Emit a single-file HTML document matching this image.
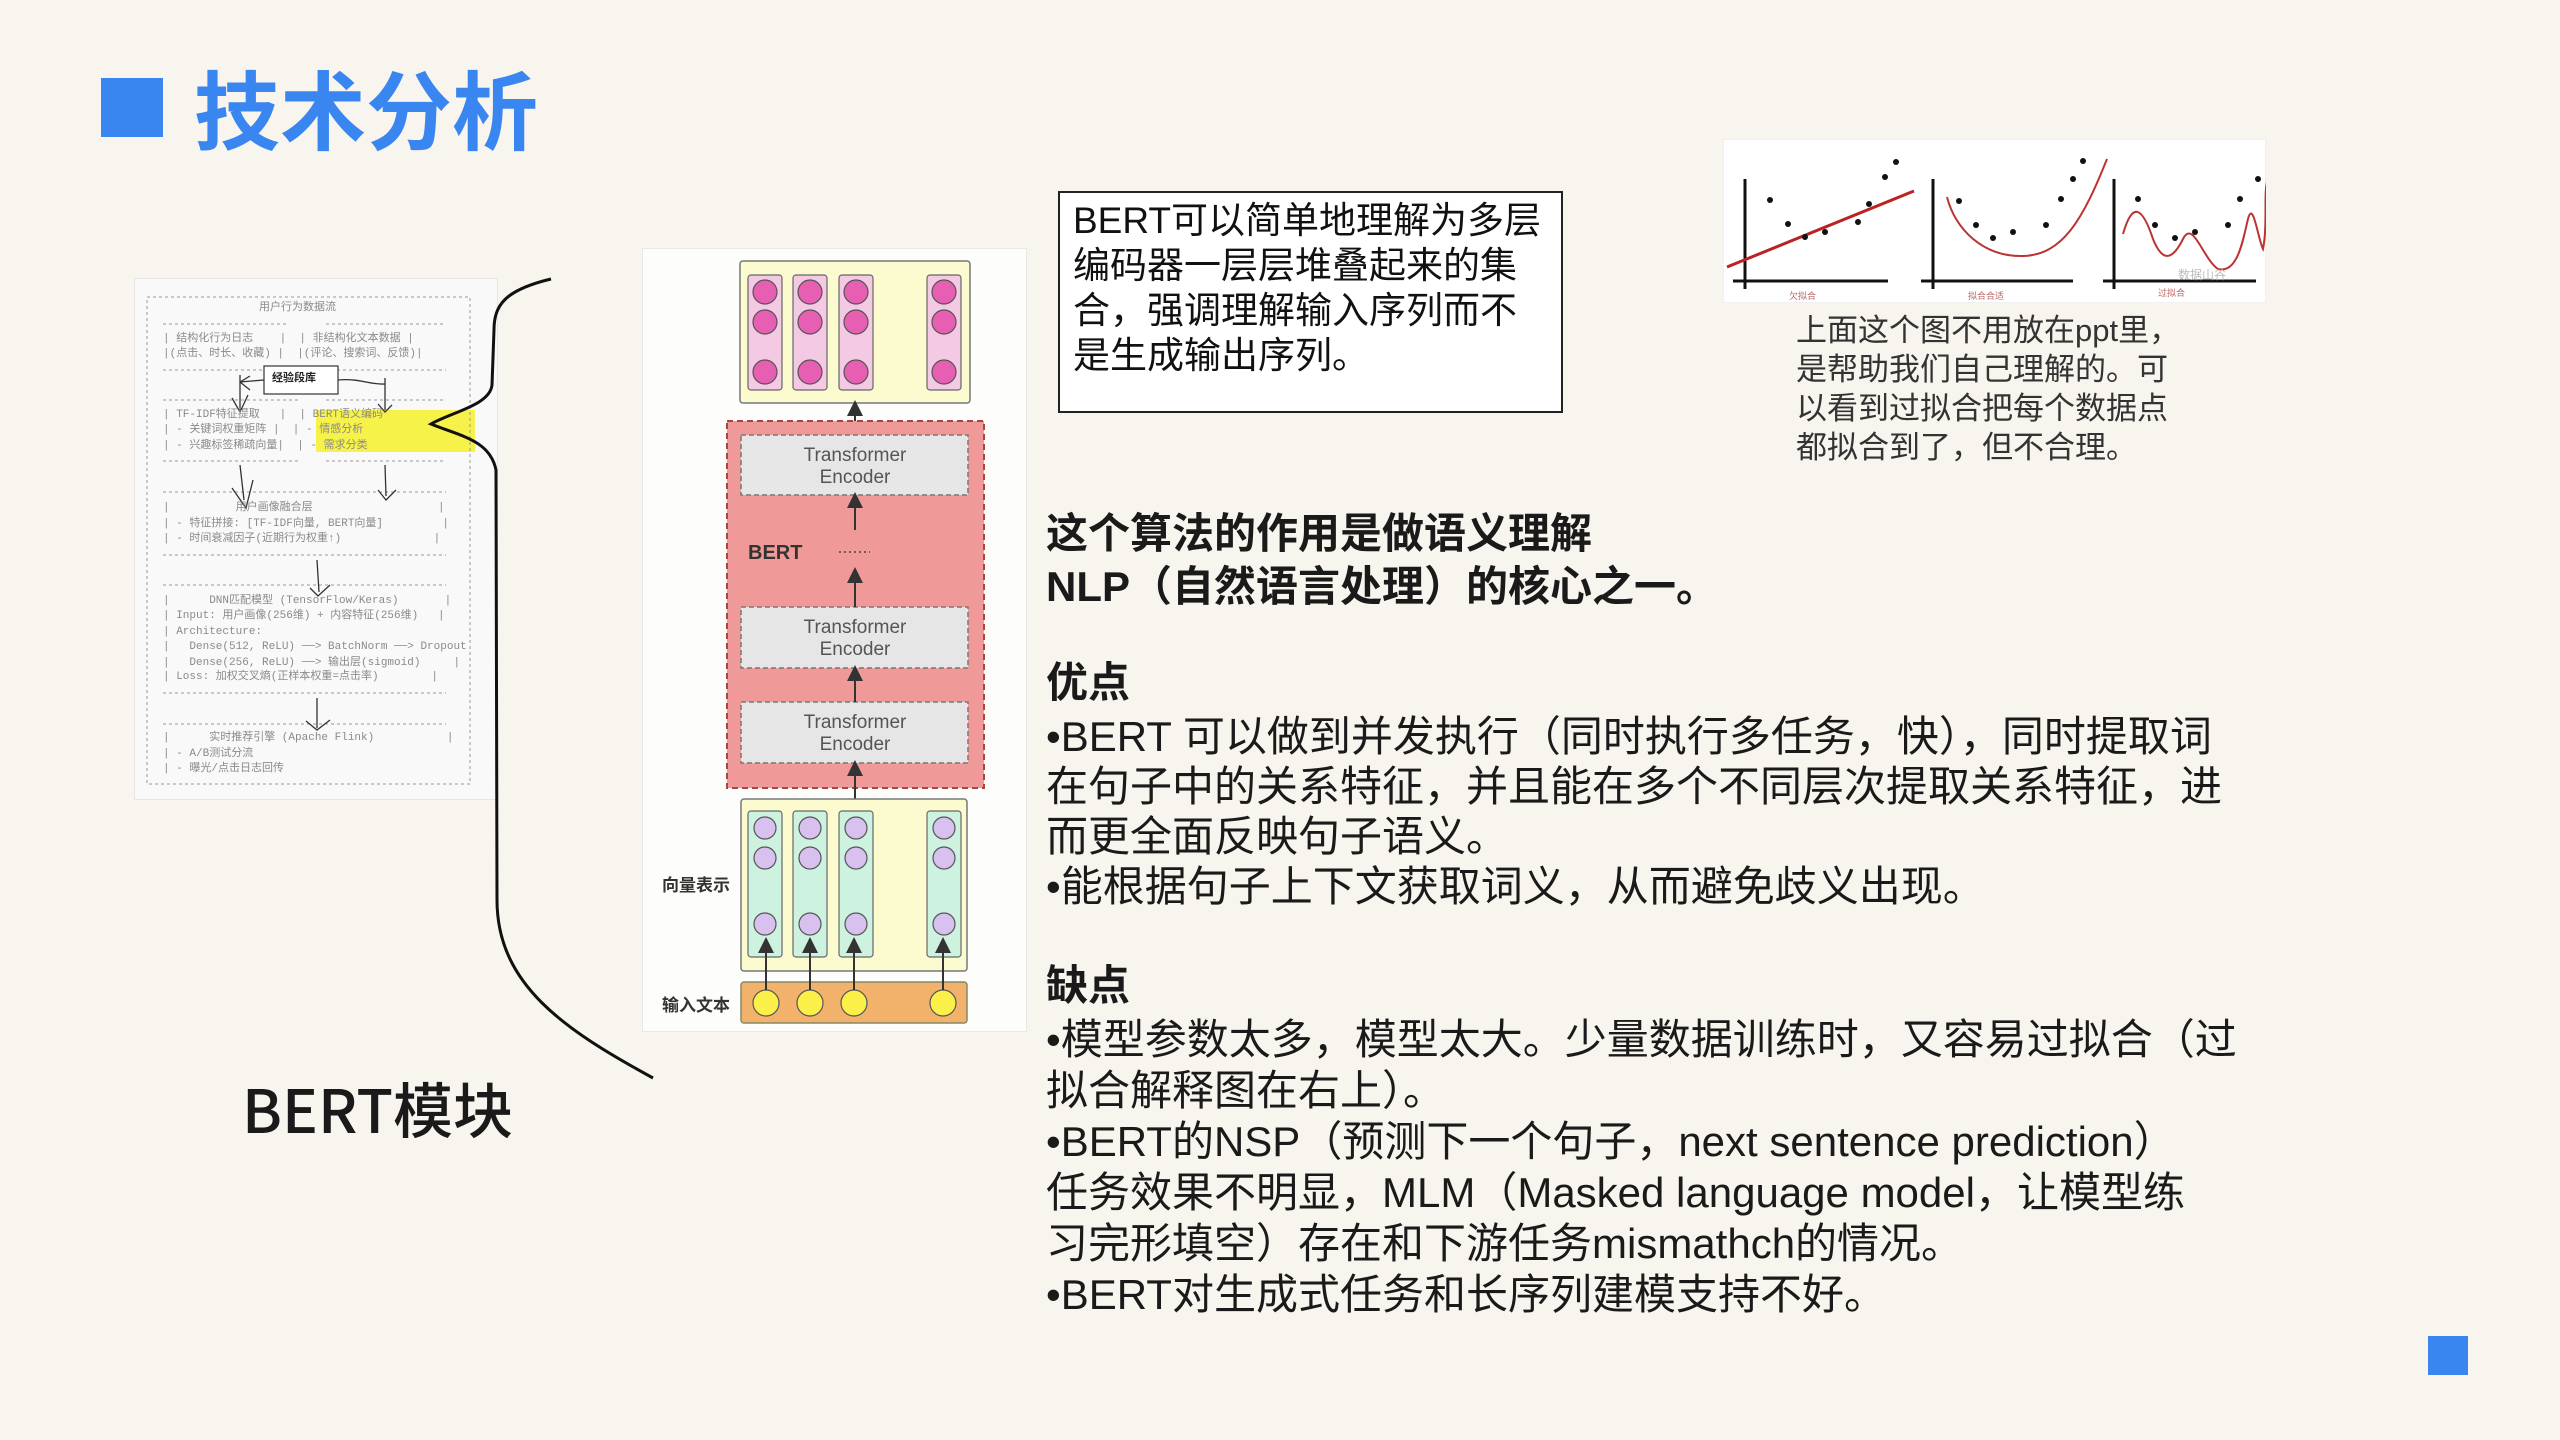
<!DOCTYPE html>
<html><head><meta charset="utf-8"><style>
*{margin:0;padding:0;box-sizing:border-box}
body{width:2560px;height:1440px;background:#f8f4ee;position:relative;overflow:hidden;font-family:"Liberation Sans","Noto Sans CJK SC",sans-serif;color:#1a1a1a}
.a{position:absolute;white-space:nowrap}
.m{position:absolute;white-space:pre;font-family:"Liberation Mono","Noto Sans CJK SC",monospace;font-size:11px;color:#8a8a8a;line-height:13px}
.t{font-size:42px;line-height:50px}
</style></head><body>
<div class="a" style="left:101px;top:78px;width:62px;height:59px;background:#3a86f0"></div>
<div class="a" style="left:194px;top:56px;font-size:86px;font-weight:bold;color:#3a86f0;line-height:100px;font-family:'Noto Sans CJK SC',sans-serif">技术分析</div>

<!-- left image -->
<div class="a" style="left:134px;top:278px;width:364px;height:522px;background:#f9f9f9;border:1px solid #e6e6e6"></div>
<div class="a" style="left:316px;top:410px;width:159px;height:42px;background:#f7f24a"></div>
<svg class="a" style="left:0;top:0" width="700" height="1100">
<g fill="none" stroke="#999" stroke-width="1" stroke-dasharray="3,3">
<rect x="147" y="297" width="323" height="487"/>
<line x1="163" y1="324" x2="288" y2="324"/><line x1="326" y1="324" x2="446" y2="324"/>
<line x1="163" y1="370" x2="446" y2="370"/>
<line x1="163" y1="400" x2="300" y2="400"/><line x1="326" y1="400" x2="446" y2="400"/>
<line x1="163" y1="461" x2="300" y2="461"/><line x1="326" y1="461" x2="446" y2="461"/>
<line x1="163" y1="492" x2="446" y2="492"/><line x1="163" y1="555" x2="446" y2="555"/>
<line x1="163" y1="585" x2="446" y2="585"/><line x1="163" y1="693" x2="446" y2="693"/>
<line x1="163" y1="724" x2="446" y2="724"/>
</g>
<rect x="264" y="366" width="74" height="28" fill="#fff" stroke="#333" stroke-width="1.2"/>
<g fill="none" stroke="#333" stroke-width="1.3">
<path d="M264 380 L240 382 M240 382 L250 376 M240 382 L250 390 M240 375 L240 410 M232 398 L240 412 L248 395"/>
<path d="M338 380 C360 378 370 385 385 384 M385 378 L385 410 M378 404 L385 412 L392 405"/>
<path d="M240 465 L244 500 M232 488 L246 508 L253 480"/>
<path d="M385 465 L386 496 M378 490 L386 500 L396 490"/>
<path d="M317 560 L319 592 M310 588 L318 596 L330 585"/>
<path d="M317 698 L317 728 M306 721 L317 730 L330 720"/>
</g>
<path d="M551 279 C505 290 494 305 494 330 L492 385 C490 405 452 412 431 424 C460 436 490 440 496 470 L497 900 C497 985 565 1030 653 1078" fill="none" stroke="#111" stroke-width="3"/>
</svg>
<div class="m" style="left:259px;top:302px">用户行为数据流</div>
<div class="m" style="left:163px;top:333px">| 结构化行为日志    |  | 非结构化文本数据 |</div>
<div class="m" style="left:163px;top:348px">|(点击、时长、收藏) |  |(评论、搜索词、反馈)|</div>
<div class="m" style="left:272px;top:373px;color:#222;font-weight:bold">经验段库</div>
<div class="m" style="left:163px;top:409px">| TF-IDF特征提取   |  | BERT语义编码</div>
<div class="m" style="left:163px;top:424px">| - 关键词权重矩阵 |  | - 情感分析</div>
<div class="m" style="left:163px;top:440px">| - 兴趣标签稀疏向量|  | - 需求分类</div>
<div class="m" style="left:163px;top:502px">|          用户画像融合层                   |</div>
<div class="m" style="left:163px;top:518px">| - 特征拼接: [TF-IDF向量, BERT向量]         |</div>
<div class="m" style="left:163px;top:533px">| - 时间衰减因子(近期行为权重↑)              |</div>
<div class="m" style="left:163px;top:595px">|      DNN匹配模型 (TensorFlow/Keras)       |</div>
<div class="m" style="left:163px;top:610px">| Input: 用户画像(256维) + 内容特征(256维)   |</div>
<div class="m" style="left:163px;top:626px">| Architecture:</div>
<div class="m" style="left:163px;top:641px">|   Dense(512, ReLU) ──> BatchNorm ──> Dropout</div>
<div class="m" style="left:163px;top:657px">|   Dense(256, ReLU) ──> 输出层(sigmoid)     |</div>
<div class="m" style="left:163px;top:671px">| Loss: 加权交叉熵(正样本权重=点击率)        |</div>
<div class="m" style="left:163px;top:732px">|      实时推荐引擎 (Apache Flink)           |</div>
<div class="m" style="left:163px;top:748px">| - A/B测试分流</div>
<div class="m" style="left:163px;top:763px">| - 曝光/点击日志回传</div>
<div class="a" style="left:242px;top:1072px;font-size:60px;line-height:72px;font-family:'Noto Sans CJK SC',sans-serif;font-weight:500">BERT模块</div>

<!-- BERT diagram -->
<div class="a" style="left:642px;top:248px;width:385px;height:784px;background:#fdfdfb;border:1px solid #e8e8e8"></div>
<svg class="a" style="left:0;top:0" width="1100" height="1100">
<defs><marker id="ar" markerWidth="8" markerHeight="8" refX="4" refY="4" orient="auto"><path d="M0 0 L8 4 L0 8z" fill="#333"/></marker></defs>
<rect x="740" y="261" width="230" height="142" rx="3" fill="#fcfbcf" stroke="#777" stroke-width="1.5"/>
<g fill="#f3c9e4" stroke="#666" stroke-width="1.2">
<rect x="748" y="275" width="34" height="115" rx="3"/><rect x="793" y="275" width="34" height="115" rx="3"/><rect x="839" y="275" width="34" height="115" rx="3"/><rect x="927" y="275" width="34" height="115" rx="3"/>
</g>
<g fill="#e75fb3" stroke="#555" stroke-width="1.2">
<circle cx="765" cy="292" r="12"/><circle cx="765" cy="322" r="12"/><circle cx="765" cy="372" r="12"/>
<circle cx="810" cy="292" r="12"/><circle cx="810" cy="322" r="12"/><circle cx="810" cy="372" r="12"/>
<circle cx="856" cy="292" r="12"/><circle cx="856" cy="322" r="12"/><circle cx="856" cy="372" r="12"/>
<circle cx="944" cy="292" r="12"/><circle cx="944" cy="322" r="12"/><circle cx="944" cy="372" r="12"/>
</g>
<rect x="727" y="421" width="257" height="367" fill="#ef9a98" stroke="#a44" stroke-width="2" stroke-dasharray="6,4"/>
<g fill="#e6e6e6" stroke="#777" stroke-width="1.5" stroke-dasharray="5,3">
<rect x="741" y="435" width="227" height="60"/><rect x="741" y="607" width="227" height="61"/><rect x="741" y="702" width="227" height="61"/>
</g>
<g fill="#555" font-family="Liberation Sans,sans-serif" font-size="19" text-anchor="middle">
<text x="855" y="461">Transformer</text><text x="855" y="483">Encoder</text>
<text x="855" y="633">Transformer</text><text x="855" y="655">Encoder</text>
<text x="855" y="728">Transformer</text><text x="855" y="750">Encoder</text>
</g>
<text x="748" y="559" font-family="Liberation Sans,sans-serif" font-weight="bold" font-size="20" fill="#333">BERT</text>
<line x1="839" y1="552" x2="870" y2="552" stroke="#444" stroke-width="1.5" stroke-dasharray="2,3"/>
<g stroke="#333" stroke-width="2" marker-end="url(#ar)">
<line x1="855" y1="421" x2="855" y2="408"/><line x1="855" y1="530" x2="855" y2="500"/>
<line x1="855" y1="607" x2="855" y2="575"/><line x1="855" y1="702" x2="855" y2="673"/>
<line x1="855" y1="799" x2="855" y2="768"/>
</g>
<rect x="741" y="799" width="226" height="172" rx="3" fill="#fcfbcf" stroke="#777" stroke-width="1.5"/>
<g fill="#cdf2e0" stroke="#666" stroke-width="1.2">
<rect x="748" y="811" width="34" height="146" rx="3"/><rect x="793" y="811" width="34" height="146" rx="3"/><rect x="839" y="811" width="34" height="146" rx="3"/><rect x="927" y="811" width="34" height="146" rx="3"/>
</g>
<g fill="#d8c0ef" stroke="#555" stroke-width="1.2">
<circle cx="765" cy="828" r="11"/><circle cx="765" cy="858" r="11"/><circle cx="765" cy="924" r="11"/>
<circle cx="810" cy="828" r="11"/><circle cx="810" cy="858" r="11"/><circle cx="810" cy="924" r="11"/>
<circle cx="856" cy="828" r="11"/><circle cx="856" cy="858" r="11"/><circle cx="856" cy="924" r="11"/>
<circle cx="944" cy="828" r="11"/><circle cx="944" cy="858" r="11"/><circle cx="944" cy="924" r="11"/>
</g>
<rect x="741" y="982" width="226" height="41" rx="3" fill="#f3b26c" stroke="#886" stroke-width="1.5"/>
<g fill="#fbef4a" stroke="#555" stroke-width="1.2">
<circle cx="766" cy="1003" r="13"/><circle cx="810" cy="1003" r="13"/><circle cx="854" cy="1003" r="13"/><circle cx="943" cy="1003" r="13"/>
</g>
<g stroke="#333" stroke-width="2" marker-end="url(#ar)">
<line x1="766" y1="990" x2="766" y2="945"/><line x1="810" y1="990" x2="810" y2="945"/><line x1="854" y1="990" x2="854" y2="945"/><line x1="943" y1="990" x2="943" y2="945"/>
</g>
<g font-family="Noto Sans CJK SC,sans-serif" font-weight="bold" font-size="17" fill="#333">
<text x="662" y="891">向量表示</text><text x="662" y="1011">输入文本</text>
</g>
</svg>

<!-- text box -->
<div class="a" style="left:1058px;top:191px;width:505px;height:222px;border:2px solid #222;background:#fff"></div>
<div class="a" style="left:1073px;top:198px;font-size:37px;line-height:45px;color:#111">BERT可以简单地理解为多层<br>编码器一层层堆叠起来的集<br>合，强调理解输入序列而不<br>是生成输出序列。</div>

<!-- chart -->
<svg class="a" style="left:1723px;top:139px" width="543" height="164">
<rect x="0" y="0" width="543" height="164" fill="#fff" stroke="#e3e3e3"/>
<g stroke="#111" stroke-width="3">
<line x1="22" y1="40" x2="22" y2="150"/><line x1="10" y1="142" x2="165" y2="142"/>
<line x1="210" y1="40" x2="210" y2="150"/><line x1="198" y1="142" x2="350" y2="142"/>
<line x1="391" y1="40" x2="391" y2="150"/><line x1="380" y1="142" x2="533" y2="142"/>
</g>
<line x1="4" y1="128" x2="191" y2="52" stroke="#b22" stroke-width="3"/>
<path d="M224 58 C232 90 260 118 300 117 C340 116 360 80 384 20" fill="none" stroke="#b33" stroke-width="2"/>
<path d="M400 95 C410 60 420 70 430 100 C440 125 450 120 460 100 C470 80 480 120 495 130 C515 135 520 100 525 80 C530 60 535 100 540 110 C545 85 540 50 545 40" fill="none" stroke="#b33" stroke-width="2"/>
<g fill="#111">
<circle cx="47" cy="61" r="3"/><circle cx="65" cy="85" r="3"/><circle cx="82" cy="98" r="3"/><circle cx="102" cy="93" r="3"/><circle cx="135" cy="83" r="3"/><circle cx="146" cy="65" r="3"/><circle cx="162" cy="38" r="3"/><circle cx="173" cy="23" r="3"/>
<circle cx="236" cy="62" r="3"/><circle cx="253" cy="86" r="3"/><circle cx="270" cy="99" r="3"/><circle cx="290" cy="93" r="3"/><circle cx="323" cy="86" r="3"/><circle cx="338" cy="60" r="3"/><circle cx="350" cy="40" r="3"/><circle cx="360" cy="22" r="3"/>
<circle cx="415" cy="60" r="3"/><circle cx="432" cy="86" r="3"/><circle cx="452" cy="99" r="3"/><circle cx="472" cy="93" r="3"/><circle cx="505" cy="86" r="3"/><circle cx="517" cy="60" r="3"/><circle cx="535" cy="40" r="3"/>
</g>
<g font-size="9" fill="#b66" font-family="Noto Sans CJK SC,sans-serif"><text x="66" y="160">欠拟合</text><text x="245" y="160">拟合合适</text><text x="435" y="157">过拟合</text></g>
<text x="455" y="140" font-size="12" fill="#bbb" font-family="Noto Sans CJK SC,sans-serif">数据山谷</text>
</svg>
<div class="a" style="left:1796px;top:311px;font-size:31px;line-height:39px;color:#333">上面这个图不用放在ppt里，<br>是帮助我们自己理解的。可<br>以看到过拟合把每个数据点<br>都拟合到了，但不合理。</div>

<!-- main text -->
<div class="a t" style="left:1046px;top:507px;font-weight:bold;line-height:53px">这个算法的作用是做语义理解<br>NLP（自然语言处理）的核心之一。</div>
<div class="a t" style="left:1046px;top:658px;font-weight:bold">优点</div>
<div class="a t" style="left:1046px;top:712px;line-height:50px">•BERT 可以做到并发执行（同时执行多任务，快），同时提取词<br>在句子中的关系特征，并且能在多个不同层次提取关系特征，进<br>而更全面反映句子语义。<br>•能根据句子上下文获取词义，从而避免歧义出现。</div>
<div class="a t" style="left:1046px;top:961px;font-weight:bold">缺点</div>
<div class="a t" style="left:1046px;top:1014px;line-height:51px">•模型参数太多，模型太大。少量数据训练时，又容易过拟合（过<br>拟合解释图在右上）。<br>•BERT的NSP（预测下一个句子，next sentence prediction）<br>任务效果不明显，MLM（Masked language model，让模型练<br>习完形填空）存在和下游任务mismathch的情况。<br>•BERT对生成式任务和长序列建模支持不好。</div>

<div class="a" style="left:2428px;top:1336px;width:40px;height:39px;background:#3a86f0"></div>
</body></html>
